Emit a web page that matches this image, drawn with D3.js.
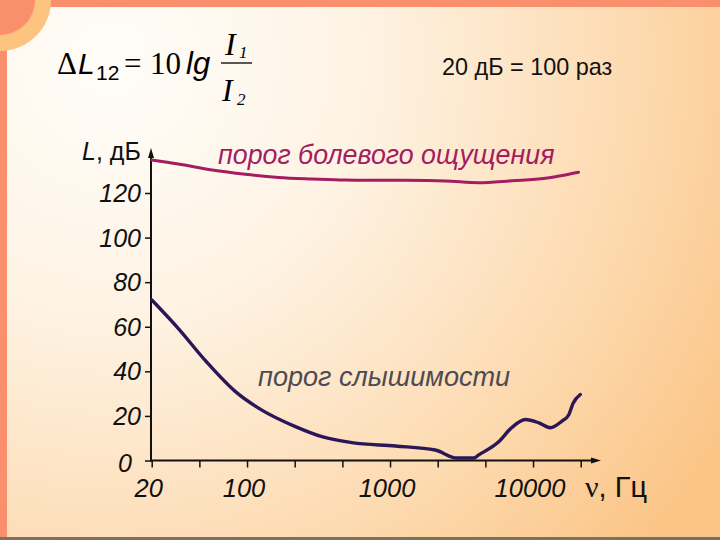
<!DOCTYPE html>
<html>
<head>
<meta charset="utf-8">
<script src="https://cdn.jsdelivr.net/npm/d3@7"></script>
<style>
html,body{margin:0;padding:0;background:#fff;}
svg{display:block;}
</style>
</head>
<body>
<svg id="chart" width="720" height="540"></svg>
<script>
// ---- data ----
const tickFreqs = [21.544, 46.416, 100, 215.44, 464.16, 1000, 2154.4, 4641.6, 10000, 21544];
const tickFreqLabels = ["20", "", "100", "", "", "1000", "", "", "10000", ""];
const levelTicks = [0, 20, 40, 60, 80, 100, 120];

const painFreq  = [21.6, 33, 57, 97, 166, 285, 487, 1090, 2430, 4170, 7130, 12200, 16800, 20800];
const painLevel = [134.8, 133, 130.3, 128.4, 127, 126.3, 125.8, 125.7, 125.4, 124.6, 125.5, 126.6, 128.1, 129.3];

const hearFreq  = [21.6, 33, 52, 83, 127, 218, 334, 542, 1090, 2070, 2940, 3850, 4170, 5750, 7080, 8830, 10970, 13200, 15950, 17750, 19070, 21400];
const hearLevel = [72, 59.3, 44.3, 30.9, 22.6, 15.2, 10.7, 8, 6.5, 4.7, 1.1, 1.1, 2.5, 8.4, 14.7, 18.4, 16.9, 14.7, 17.7, 20.4, 25.7, 29.6];

const painLabel = "порог болевого ощущения";
const hearLabel = "порог слышимости";
const yAxisTitle = ["L", ", дБ"];
const xAxisTitle = ["ν", ", Гц"];
const noteText = "20 дБ = 100 раз";

// ---- drawing ----
const svg = d3.select("#chart");
const defs = svg.append("defs");
const grad = defs.append("radialGradient").attr("id", "bg")
  .attr("gradientUnits", "userSpaceOnUse")
  .attr("cx", 110).attr("cy", 60).attr("r", 720);
grad.append("stop").attr("offset", "0").attr("stop-color", "#fffdf9");
grad.append("stop").attr("offset", "0.35").attr("stop-color", "#fef3e4");
grad.append("stop").attr("offset", "0.7").attr("stop-color", "#fddcb4");
grad.append("stop").attr("offset", "1").attr("stop-color", "#fbc587");

svg.append("rect").attr("width", 720).attr("height", 540).attr("fill", "url(#bg)");

// frame decorations
const salmon = "#f98f6c";
svg.append("rect").attr("x", 0).attr("y", 0).attr("width", 720).attr("height", 7).attr("fill", salmon);
svg.append("rect").attr("x", 0).attr("y", 0).attr("width", 7).attr("height", 537).attr("fill", salmon);
svg.append("circle").attr("cx", 0).attr("cy", 0).attr("r", 51).attr("fill", "#fcc47f");
svg.append("circle").attr("cx", 0).attr("cy", 0).attr("r", 35).attr("fill", salmon);
svg.append("rect").attr("x", 0).attr("y", 537).attr("width", 720).attr("height", 3).attr("fill", "#7a735c");

const x = d3.scaleLog().domain([tickFreqs[0], tickFreqs[tickFreqs.length - 1]]).range([151.7, 580.7]);
const y = d3.scaleLinear().domain([0, 120]).range([460.5, 193]);

const sans = "'Liberation Sans', Arial, sans-serif";
const serif = "'Liberation Serif', 'Times New Roman', serif";

// axes
const axisG = svg.append("g");
const yAxis = d3.axisLeft(y).tickValues(levelTicks).tickSize(6).tickFormat("");
const yg = axisG.append("g").attr("transform", "translate(151,0)").call(yAxis);
yg.select(".domain").remove();
yg.selectAll(".tick line").attr("stroke", "#111").attr("stroke-width", 1.5);
const xAxis = d3.axisBottom(x).tickValues(tickFreqs).tickSize(7).tickFormat("");
const xg = axisG.append("g").attr("transform", "translate(0,460.5)").call(xAxis);
xg.select(".domain").remove();
xg.selectAll(".tick line").attr("stroke", "#111").attr("stroke-width", 1.5);

axisG.append("line").attr("x1", 151).attr("y1", 461.5).attr("x2", 151).attr("y2", 152)
  .attr("stroke", "#111").attr("stroke-width", 2);
axisG.append("path").attr("d", "M151,148 L148,158 L154,158 Z").attr("fill", "#111");
axisG.append("line").attr("x1", 150).attr("y1", 460.5).attr("x2", 596).attr("y2", 460.5)
  .attr("stroke", "#111").attr("stroke-width", 2);
axisG.append("path").attr("d", "M601,460.5 L591,457.5 L591,463.5 Z").attr("fill", "#111");

// y tick labels
svg.append("g").selectAll("text").data(levelTicks).join("text")
  .attr("x", d => d === 0 ? 132 : 141)
  .attr("y", d => y(d) + (d === 0 ? 11 : 9))
  .attr("text-anchor", "end")
  .attr("font-family", sans).attr("font-style", "italic").attr("font-size", 25)
  .attr("fill", "#111")
  .text(d => d);

// x tick labels
svg.append("g").selectAll("text").data(tickFreqs.map((f, i) => ({f, l: tickFreqLabels[i]})).filter(d => d.l))
  .join("text")
  .attr("x", d => x(d.f) - 3)
  .attr("y", 497)
  .attr("text-anchor", "middle")
  .attr("font-family", sans).attr("font-style", "italic").attr("font-size", 25.5)
  .attr("fill", "#111")
  .text(d => d.l);

// axis titles
const yt = svg.append("text").attr("x", 82).attr("y", 160)
  .attr("font-family", sans).attr("font-size", 25).attr("fill", "#111");
yt.append("tspan").attr("font-style", "italic").text(yAxisTitle[0]);
yt.append("tspan").text(yAxisTitle[1]);

const xt = svg.append("text").attr("x", 585).attr("y", 497).attr("fill", "#111");
xt.append("tspan").attr("font-family", serif).attr("font-size", 30).text(xAxisTitle[0]);
xt.append("tspan").attr("font-family", sans).attr("font-size", 29).text(xAxisTitle[1]);

// curves
const line = d3.line().x(d => x(d[0])).y(d => y(d[1])).curve(d3.curveMonotoneX);
svg.append("path").datum(painFreq.map((f, i) => [f, painLevel[i]]))
  .attr("d", line).attr("fill", "none").attr("stroke", "#a31d60").attr("stroke-width", 3)
  .attr("stroke-linecap", "round");
svg.append("path").datum(hearFreq.map((f, i) => [f, hearLevel[i]]))
  .attr("d", line).attr("fill", "none").attr("stroke", "#2b1758").attr("stroke-width", 3.4)
  .attr("stroke-linecap", "round");

// curve labels
svg.append("text").attr("x", 218).attr("y", 164)
  .attr("font-family", sans).attr("font-style", "italic").attr("font-size", 26.8)
  .attr("fill", "#a31d60").text(painLabel);
svg.append("text").attr("x", 258).attr("y", 386)
  .attr("font-family", sans).attr("font-style", "italic").attr("font-size", 27.1)
  .attr("fill", "#4d4b52").text(hearLabel);

// note
svg.append("text").attr("x", 442).attr("y", 75)
  .attr("font-family", sans).attr("font-size", 23.4).attr("fill", "#111").text(noteText);

// formula
const fg = svg.append("g").attr("fill", "#000");
fg.append("text").attr("x", 57).attr("y", 74).attr("font-family", serif).attr("font-size", 31).text("Δ");
fg.append("text").attr("x", 78).attr("y", 74).attr("font-family", sans).attr("font-style", "italic").attr("font-size", 30).text("L");
fg.append("text").attr("x", 96).attr("y", 80).attr("font-family", sans).attr("font-size", 21).text("12");
fg.append("text").attr("x", 124).attr("y", 74).attr("font-family", serif).attr("font-size", 31).text("=");
fg.append("text").attr("x", 150).attr("y", 74).attr("font-family", serif).attr("font-size", 31).text("10");
fg.append("text").attr("x", 186).attr("y", 74).attr("font-family", sans).attr("font-style", "italic").attr("font-size", 31).text("lg");
fg.append("line").attr("x1", 221).attr("x2", 252).attr("y1", 63).attr("y2", 63).attr("stroke", "#000").attr("stroke-width", 1.3);
fg.append("text").attr("x", 225).attr("y", 55).attr("font-family", serif).attr("font-style", "italic").attr("font-size", 32).text("I");
fg.append("text").attr("x", 239).attr("y", 58).attr("font-family", serif).attr("font-style", "italic").attr("font-size", 17).text("1");
fg.append("text").attr("x", 222).attr("y", 101).attr("font-family", serif).attr("font-style", "italic").attr("font-size", 32).text("I");
fg.append("text").attr("x", 237).attr("y", 105).attr("font-family", serif).attr("font-style", "italic").attr("font-size", 17).text("2");
</script>
</body>
</html>
